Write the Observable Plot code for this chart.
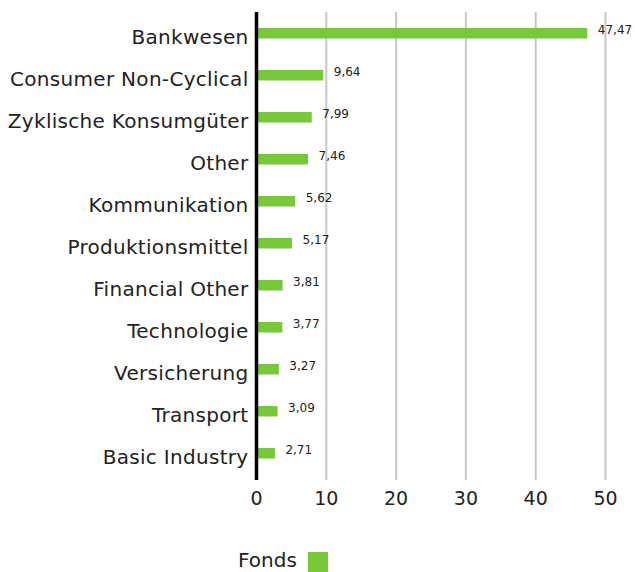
<!DOCTYPE html>
<html><head><meta charset="utf-8">
<script src="https://cdn.jsdelivr.net/npm/d3@7"></script>
<script src="https://cdn.jsdelivr.net/npm/@observablehq/plot@0.6"></script>
<style>
body{margin:0;background:#fff;font-family:"DejaVu Sans",sans-serif;}
#legend-text{position:absolute;left:238px;top:549px;height:23px;font-size:20px;line-height:23px;color:#222;}
#legend-sw{position:absolute;left:308px;top:552px;width:20px;height:20px;background:#77c93a;}
</style></head>
<body>
<div id="chart"></div>
<div id="legend"><span id="legend-text">Fonds</span><span id="legend-sw"></span></div>
<script>
const categories = ["Bankwesen","Consumer Non-Cyclical","Zyklische Konsumgüter","Other","Kommunikation","Produktionsmittel","Financial Other","Technologie","Versicherung","Transport","Basic Industry"];
const values = [47.47,9.64,7.99,7.46,5.62,5.17,3.81,3.77,3.27,3.09,2.71];
const xTicks = [0,10,20,30,40,50];
const data = categories.map((c,i)=>({c, v: values[i]}));
const fmt = v => v.toFixed(2).replace(".", ",");
const chart = Plot.plot({
  width: 635, height: 520,
  marginLeft: 256, marginRight: 30, marginTop: 12, marginBottom: 40,
  style: {fontFamily: "DejaVu Sans", color: "#222", background: "#fff"},
  x: {domain: [0,50], ticks: xTicks, tickSize: 0, label: null},
  y: {domain: categories, label: null, tickSize: 0, padding: 0},
  marks: [
    Plot.gridX(xTicks.slice(1), {stroke: "#c8c8c8", strokeWidth: 2, strokeOpacity: 1}),
    Plot.barX(data, {x: "v", y: "c", fill: "#77c93a", insetTop: 13, insetBottom: 18.5}),
    Plot.text(data, {x: "v", y: "c", text: d=>fmt(d.v), textAnchor: "start", dx: 10, dy: -6, fontSize: 12, fill: "#222"}),
    Plot.ruleX([0], {stroke: "#000", strokeWidth: 3.5}),
    Plot.axisX({ticks: xTicks, tickSize: 0, fontSize: 19, tickPadding: 11, label: null, tickFormat: d=>String(d)}),
    Plot.axisY({tickSize: 0, fontSize: 20, tickPadding: 8, dy: 1, label: null})
  ]
});
chart.querySelectorAll("[aria-label='y-axis tick label'] text").forEach(t => t.setAttribute("letter-spacing", "0.3"));
document.getElementById("chart").appendChild(chart);
</script>
</body></html>
